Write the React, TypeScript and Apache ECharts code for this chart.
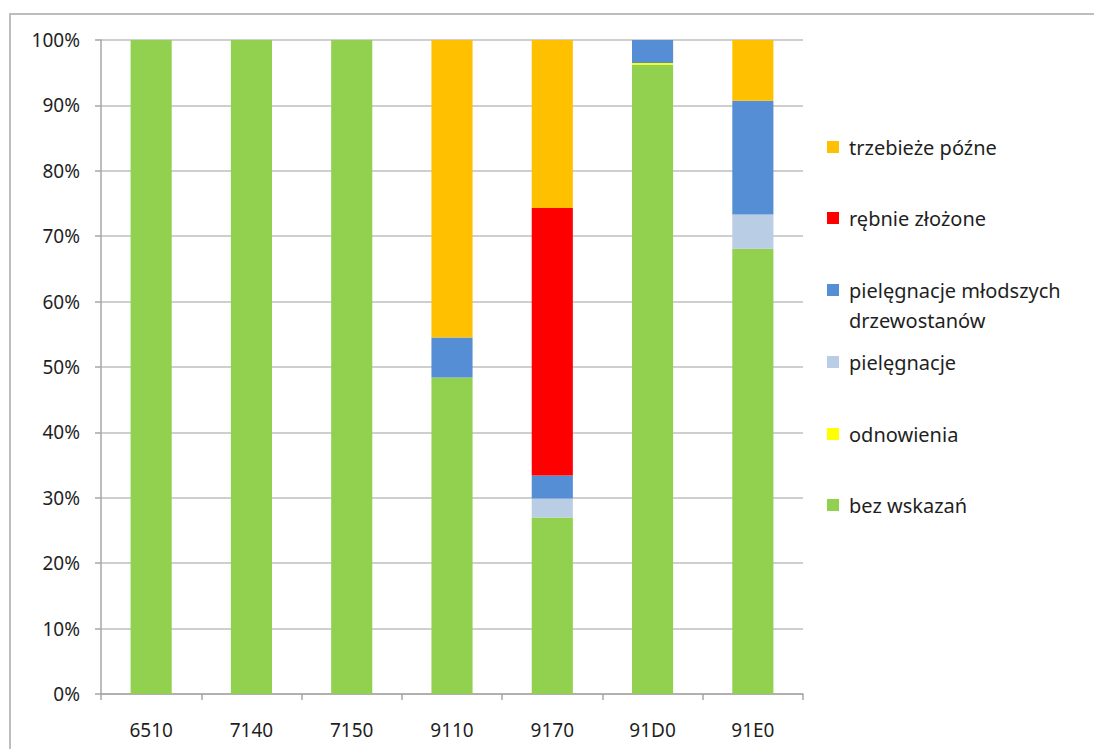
import React, { useEffect, useRef } from "react";
import * as echarts from "echarts";

const categories = ["6510", "7140", "7150", "9110", "9170", "91D0", "91E0"];
const bezWskazan = [100, 100, 100, 48.4, 27.0, 96.2, 68.1];
const odnowienia = [0, 0, 0, 0, 0, 0.3, 0];
const pielegnacje = [0, 0, 0, 0, 2.9, 0, 5.2];
const pielegnacjeMlodszych = [0, 0, 0, 6.1, 3.5, 3.5, 17.4];
const rebnieZlozone = [0, 0, 0, 0, 40.9, 0, 0];
const trzebiezePozne = [0, 0, 0, 45.5, 25.7, 0, 9.3];

const seriesNames = [
  "bez wskazań",
  "odnowienia",
  "pielęgnacje",
  "pielęgnacje młodszych\ndrzewostanów",
  "rębnie złożone",
  "trzebieże późne",
];
const seriesData = [
  bezWskazan,
  odnowienia,
  pielegnacje,
  pielegnacjeMlodszych,
  rebnieZlozone,
  trzebiezePozne,
];
const seriesColors = ["#92D050", "#FFFF00", "#B9CDE5", "#558ED5", "#FF0000", "#FFC000"];

// legend order top-down and center y positions
const legendOrder = [5, 4, 3, 2, 1, 0];
const legendCenters = [147, 218, 290, 362, 434, 505];

const FONT = "Noto Sans";
const TEXT_COLOR = "#1f1f1f";

export default function App() {
  const ref = useRef<HTMLDivElement>(null);

  useEffect(() => {
    if (!ref.current) return;
    const chart = echarts.init(ref.current, undefined, { renderer: "svg" });

    const legends = legendOrder.map((si, i) => {
      const name = seriesNames[si];
      const twoLine = name.includes("\n");
      return {
        data: [name],
        orient: "vertical" as const,
        left: 827,
        top: legendCenters[i] - 15,
        padding: 0,
        itemWidth: 12,
        itemHeight: twoLine ? 42 : 12,
        icon: twoLine
          ? "path://M0,0h12v12h-12z M0,41.9h0.1v0.1h-0.1z"
          : "rect",
        itemStyle: { borderWidth: 0 },
        selectedMode: false,
        textStyle: {
          fontFamily: FONT,
          fontSize: 20,
          color: TEXT_COLOR,
          lineHeight: 30,
          padding: [0, 0, 0, 5],
        },
      };
    });

    chart.setOption({
      animation: false,
      backgroundColor: "#ffffff",
      graphic: [
        {
          type: "rect",
          shape: { x: 10, y: 14, width: 1200, height: 900 },
          style: { fill: "none", stroke: "#bdbdbd", lineWidth: 2 },
          silent: true,
        },
      ],
      legend: legends,
      grid: { left: 101, top: 40, right: 291, bottom: 55, containLabel: false },
      xAxis: {
        type: "category",
        data: categories,
        axisLine: { show: true, lineStyle: { color: "#a6a6a6", width: 1.5 } },
        axisTick: { show: true, length: 6, lineStyle: { color: "#a6a6a6", width: 1.5 } },
        axisLabel: {
          fontFamily: FONT,
          fontSize: 19,
          color: TEXT_COLOR,
          margin: 26,
        },
      },
      yAxis: {
        type: "value",
        min: 0,
        max: 100,
        interval: 10,
        axisLine: { show: true, lineStyle: { color: "#a6a6a6", width: 1.5 } },
        axisTick: { show: true, length: 6, lineStyle: { color: "#a6a6a6", width: 1.5 } },
        axisLabel: {
          formatter: "{value}%",
          fontFamily: FONT,
          fontSize: 19,
          color: TEXT_COLOR,
          margin: 21,
        },
        splitLine: { show: true, lineStyle: { color: "#bfbfbf", width: 1.5 } },
      },
      series: seriesNames.map((name, i) => ({
        name,
        type: "bar",
        stack: "total",
        barWidth: "41%",
        data: seriesData[i],
        itemStyle: { color: seriesColors[i] },
      })),
    });

    return () => chart.dispose();
  }, []);

  return (
    <div
      ref={ref}
      style={{ position: "fixed", left: 0, top: 0, width: 1094, height: 749 }}
    />
  );
}
